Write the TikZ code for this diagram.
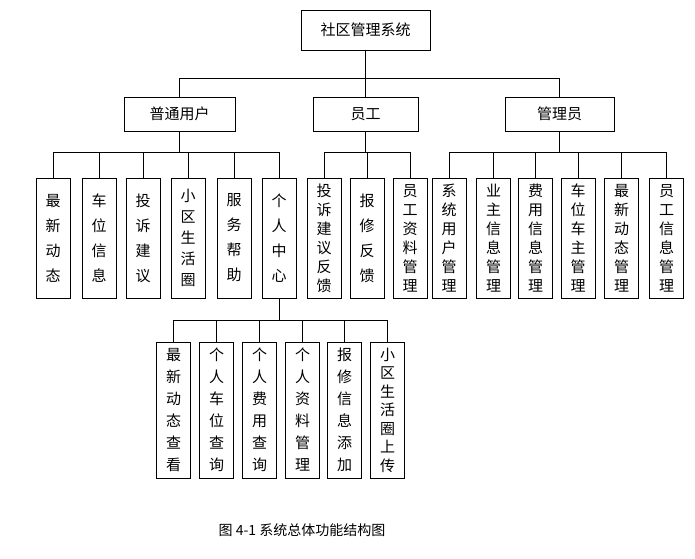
\documentclass[tikz,border=0pt]{standalone}
\usepackage{fontspec}
\setmainfont{Noto Sans CJK SC}
\begin{document}
\begin{tikzpicture}[x=1pt,y=-1pt,
 box/.style={draw,thick,inner sep=0pt,font=\fontsize{15}{18}\selectfont},
 vb/.style={box,minimum width=34pt,align=center},
 v4/.style={vb,minimum height=120pt,font=\fontsize{15}{25}\selectfont},
 v5/.style={vb,minimum height=120pt,font=\fontsize{15}{21}\selectfont},
 v6/.style={vb,minimum height=120pt,font=\fontsize{15}{19}\selectfont},
 w6/.style={vb,minimum height=136pt,font=\fontsize{15}{22}\selectfont},
 w7/.style={vb,minimum height=136pt,font=\fontsize{15}{18.5}\selectfont},
 ln/.style={thin}]
\useasboundingbox (0,0) rectangle (695,558);
\node[box,minimum width=129pt,minimum height=40pt] (root) at (365.5,30) {社区管理系统};
\node[box,minimum width=111pt,minimum height=34pt] (pu) at (179.5,114) {普通用户};
\node[box,minimum width=105pt,minimum height=34pt] (yg) at (365.5,114) {员工};
\node[box,minimum width=109pt,minimum height=34pt] (gl) at (559.5,114) {管理员};
\foreach \c in {pu,yg,gl} \draw[ln] (root.south) -- ++(0,28) -| (\c.north);
% 普通用户
\node[v4] (a1) at (53,238) {最\\新\\动\\态};
\node[v4] (a2) at (99,238) {车\\位\\信\\息};
\node[v4] (a3) at (143,238) {投\\诉\\建\\议};
\node[v5] (a4) at (188,238) {小\\区\\生\\活\\圈};
\node[v4] (a5) at (234,238) {服\\务\\帮\\助};
\node[v4] (a6) at (279,238) {个\\人\\中\\心};
\foreach \c in {a1,a2,a3,a4,a5,a6} \draw[ln] (pu.south) -- ++(0,21) -| (\c.north);
% 员工
\node[v6] (b1) at (324,238) {投\\诉\\建\\议\\反\\馈};
\node[v4] (b2) at (367,238) {报\\修\\反\\馈};
\node[v6] (b3) at (410,238) {员\\工\\资\\料\\管\\理};
\foreach \c in {b1,b2,b3} \draw[ln] (yg.south) -- ++(0,21) -| (\c.north);
% 管理员
\node[v6] (c1) at (449,238) {系\\统\\用\\户\\管\\理};
\node[v6] (c2) at (493.5,238) {业\\主\\信\\息\\管\\理};
\node[v6] (c3) at (535.5,238) {费\\用\\信\\息\\管\\理};
\node[v6] (c4) at (578,238) {车\\位\\车\\主\\管\\理};
\node[v6] (c5) at (621.5,238) {最\\新\\动\\态\\管\\理};
\node[v6] (c6) at (666.5,238) {员\\工\\信\\息\\管\\理};
\foreach \c in {c1,c2,c3,c4,c5,c6} \draw[ln] (gl.south) -- ++(0,21) -| (\c.north);
% 个人中心
\node[w6] (d1) at (173.5,410) {最\\新\\动\\态\\查\\看};
\node[w6] (d2) at (216.5,410) {个\\人\\车\\位\\查\\询};
\node[w6] (d3) at (259.5,410) {个\\人\\费\\用\\查\\询};
\node[w6] (d4) at (302.5,410) {个\\人\\资\\料\\管\\理};
\node[w6] (d5) at (344.5,410) {报\\修\\信\\息\\添\\加};
\node[w7] (d6) at (387.5,410) {小\\区\\生\\活\\圈\\上\\传};
\foreach \c in {d1,d2,d3,d4,d5,d6} \draw[ln] (a6.south) -- ++(0,22) -| (\c.north);
\node[font=\fontsize{14}{16}\selectfont] (cap) at (302,530) {图 4-1 系统总体功能结构图};
\end{tikzpicture}
\end{document}
